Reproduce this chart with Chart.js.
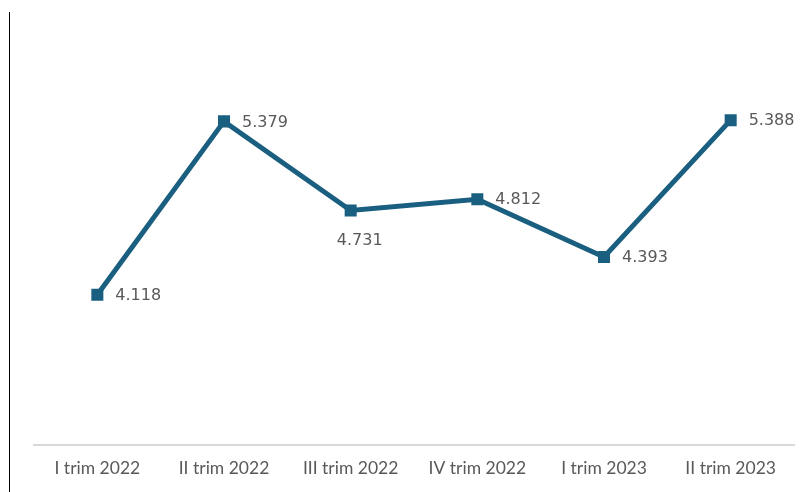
<!DOCTYPE html>
<html>
<head>
<meta charset="utf-8">
<script src="https://cdn.jsdelivr.net/npm/chart.js@4/dist/chart.umd.min.js"></script>
<style>
  html, body { margin: 0; padding: 0; background: #ffffff; }
  #wrap { position: relative; width: 811px; height: 492px; }
  #edge { position: absolute; left: 9px; top: 12px; width: 0; height: 480px; border-left: 1.5px solid #000; }
  canvas { position: absolute; left: 0; top: 0; }
</style>
</head>
<body>
<div id="wrap">
  <canvas id="c" width="811" height="492"></canvas>
  <div id="edge"></div>
</div>
<script>
const categories = ["I trim 2022", "II trim 2022", "III trim 2022", "IV trim 2022", "I trim 2023", "II trim 2023"];
const values = [4.118, 5.379, 4.731, 4.812, 4.393, 5.388];
const valueLabels = ["4.118", "5.379", "4.731", "4.812", "4.393", "5.388"];
const labelPlacement = ["right", "right", "below", "right", "right", "right"];

const LINE = "#1a5f80";

const labelPlugin = {
  id: "valueLabels",
  afterDatasetsDraw(chart) {
    const ctx = chart.ctx;
    const meta = chart.getDatasetMeta(0);
    ctx.save();
    ctx.font = "16px 'DejaVu Sans', sans-serif";
    ctx.fillStyle = "#595959";
    meta.data.forEach((pt, i) => {
      if (labelPlacement[i] === "below") {
        ctx.textAlign = "center";
        ctx.textBaseline = "middle";
        ctx.fillText(valueLabels[i], pt.x + 9, pt.y + 30);
      } else {
        ctx.textAlign = "left";
        ctx.textBaseline = "middle";
        ctx.fillText(valueLabels[i], pt.x + 18, pt.y + 1);
      }
    });
    ctx.restore();
  }
};

new Chart(document.getElementById("c"), {
  type: "line",
  data: {
    labels: categories,
    datasets: [{
      data: values,
      borderColor: LINE,
      backgroundColor: LINE,
      borderWidth: 5,
      pointStyle: "rect",
      pointRadius: 8.5,
      pointHoverRadius: 8.5,
      pointBackgroundColor: LINE,
      pointBorderColor: LINE,
      pointBorderWidth: 0,
      tension: 0
    }]
  },
  options: {
    responsive: false,
    animation: false,
    layout: { padding: { left: 34, right: 17, top: 36, bottom: 0 } },
    plugins: { legend: { display: false }, tooltip: { enabled: false } },
    scales: {
      x: {
        offset: true,
        grid: { display: false, drawTicks: false },
        border: { display: true, color: "#d9d9d9", width: 2 },
        ticks: {
          color: "#595959",
          padding: 13,
          font: { family: "Lato, 'Open Sans', sans-serif", size: 17.5 },
          maxRotation: 0
        }
      },
      y: {
        display: false,
        min: 3.025,
        max: 6
      }
    }
  },
  plugins: [labelPlugin]
});
</script>
</body>
</html>
